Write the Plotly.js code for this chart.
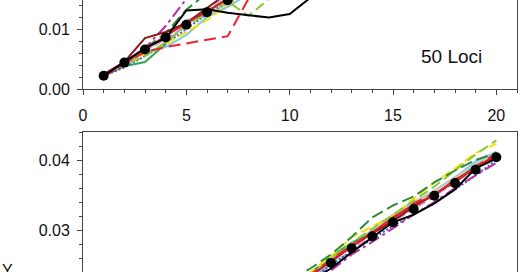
<!DOCTYPE html>
<html><head><meta charset="utf-8">
<script src="https://cdn.plot.ly/plotly-3.0.1.min.js"></script>
<style>html,body{margin:0;padding:0;overflow:hidden;width:520px;height:272px;background:#fff}
#chart{position:absolute;left:0;top:-200px;width:520px;height:700px}</style>
</head><body><div id="chart"></div>
<script>
const xs = [1,2,3,4,5,6,7,8,9,10,11,12,13,14,15,16,17,18,19,20];

// top panel (50 Loci)
const topMean    = [0.0022,0.0044,0.0066,0.0086,0.0107,0.0128,0.0148,0.0167,0.0187,0.0206,0.0226,0.0245,0.0265,0.0284,0.0303,0.0322,0.0342,0.0361,0.0380,0.0400];
const topBlack   = [0.0022,0.0045,0.0068,0.0085,0.0131,0.0133,0.0127,0.0123,0.0119,0.0125,0.0152,0.0185,0.0220,0.0252,0.0280,0.0305,0.0330,0.0352,0.0375,0.0398];
const topRedDash = [0.0022,0.0042,0.0062,0.0070,0.0076,0.0082,0.0088,0.0150,0.0192,0.0215,0.0232,0.0250,0.0268,0.0290,0.0308,0.0326,0.0345,0.0366,0.0384,0.0405];
const topBrown   = [0.0025,0.0045,0.0085,0.0095,0.0110,0.0135,0.0160,0.0178,0.0195,0.0212,0.0230,0.0250,0.0270,0.0288,0.0306,0.0326,0.0345,0.0364,0.0385,0.0402];
const topMagenta = [0.0022,0.0040,0.0068,0.0105,0.0150,0.0172,0.0190,0.0205,0.0220,0.0240,0.0258,0.0275,0.0290,0.0305,0.0320,0.0338,0.0355,0.0372,0.0390,0.0410];
const topDkGreen = [0.0022,0.0042,0.0068,0.0093,0.0132,0.0160,0.0178,0.0195,0.0212,0.0230,0.0248,0.0265,0.0282,0.0300,0.0318,0.0336,0.0354,0.0372,0.0392,0.0412];
const topLtGreen = [0.0022,0.0040,0.0055,0.0078,0.0105,0.0125,0.0146,0.0122,0.0150,0.0175,0.0200,0.0225,0.0250,0.0272,0.0295,0.0318,0.0340,0.0362,0.0382,0.0405];
const topYellow  = [0.0022,0.0042,0.0058,0.0075,0.0095,0.0115,0.0140,0.0160,0.0180,0.0200,0.0222,0.0242,0.0262,0.0282,0.0300,0.0320,0.0340,0.0360,0.0380,0.0398];
const topLtBlue  = [0.0022,0.0040,0.0062,0.0070,0.0090,0.0120,0.0137,0.0158,0.0180,0.0200,0.0220,0.0240,0.0260,0.0280,0.0300,0.0318,0.0338,0.0358,0.0378,0.0396];
const topBlueDot = [0.0022,0.0036,0.0055,0.0075,0.0100,0.0125,0.0145,0.0165,0.0185,0.0204,0.0222,0.0242,0.0262,0.0280,0.0298,0.0318,0.0336,0.0355,0.0374,0.0392];
const topGray    = [0.0022,0.0043,0.0065,0.0085,0.0115,0.0122,0.0142,0.0165,0.0185,0.0205,0.0225,0.0245,0.0265,0.0285,0.0305,0.0325,0.0344,0.0364,0.0384,0.0404];
const topGreen   = [0.0022,0.0038,0.0045,0.0075,0.0110,0.0128,0.0150,0.0170,0.0190,0.0208,0.0228,0.0248,0.0266,0.0286,0.0304,0.0324,0.0343,0.0362,0.0381,0.0401];
const topLavender= [0.0022,0.0043,0.0064,0.0083,0.0105,0.0135,0.0152,0.0172,0.0190,0.0210,0.0230,0.0248,0.0268,0.0287,0.0306,0.0325,0.0345,0.0364,0.0383,0.0403];
const topRed     = [0.0023,0.0045,0.0066,0.0088,0.0110,0.0130,0.0150,0.0170,0.0190,0.0209,0.0228,0.0247,0.0267,0.0286,0.0305,0.0324,0.0344,0.0363,0.0382,0.0402];

// bottom panel
const botMean    = [0.0021,0.0042,0.0063,0.0084,0.0105,0.0126,0.0147,0.0168,0.0190,0.0212,0.0233,0.0253,0.0274,0.0291,0.0311,0.0330,0.0349,0.0367,0.0386,0.0404];
const botBlack   = [0.0021,0.0041,0.0062,0.0083,0.0104,0.0125,0.0146,0.0166,0.0187,0.0208,0.0228,0.0245,0.0268,0.0290,0.0311,0.0322,0.0338,0.0358,0.0388,0.0402];
const botRedDash = [0.0022,0.0043,0.0064,0.0085,0.0106,0.0127,0.0148,0.0170,0.0192,0.0214,0.0236,0.0258,0.0278,0.0297,0.0316,0.0338,0.0352,0.0370,0.0390,0.0410];
const botBrown   = [0.0022,0.0043,0.0064,0.0085,0.0106,0.0127,0.0148,0.0169,0.0191,0.0213,0.0235,0.0255,0.0277,0.0295,0.0313,0.0333,0.0351,0.0369,0.0389,0.0406];
const botMagenta = [0.0020,0.0040,0.0060,0.0080,0.0100,0.0120,0.0140,0.0160,0.0182,0.0204,0.0226,0.0242,0.0265,0.0283,0.0303,0.0322,0.0340,0.0360,0.0378,0.0396];
const botDkGreen = [0.0022,0.0043,0.0064,0.0086,0.0108,0.0130,0.0152,0.0175,0.0200,0.0228,0.0245,0.0265,0.0290,0.0318,0.0335,0.0348,0.0368,0.0385,0.0400,0.0410];
const botLtGreen = [0.0021,0.0042,0.0063,0.0084,0.0105,0.0126,0.0147,0.0168,0.0190,0.0213,0.0236,0.0258,0.0282,0.0302,0.0322,0.0342,0.0362,0.0385,0.0408,0.0428];
const botYellow  = [0.0022,0.0043,0.0064,0.0085,0.0107,0.0129,0.0151,0.0173,0.0195,0.0218,0.0240,0.0262,0.0290,0.0305,0.0320,0.0345,0.0368,0.0388,0.0410,0.0423];
const botLtBlue  = [0.0021,0.0042,0.0063,0.0084,0.0105,0.0126,0.0147,0.0169,0.0190,0.0211,0.0232,0.0252,0.0278,0.0296,0.0318,0.0338,0.0356,0.0375,0.0398,0.0412];
const botBlueDot = [0.0020,0.0041,0.0062,0.0083,0.0104,0.0125,0.0146,0.0166,0.0187,0.0208,0.0229,0.0250,0.0270,0.0287,0.0306,0.0322,0.0338,0.0358,0.0378,0.0400];
const botGray    = [0.0022,0.0043,0.0064,0.0085,0.0106,0.0127,0.0148,0.0170,0.0192,0.0214,0.0237,0.0260,0.0280,0.0300,0.0322,0.0340,0.0356,0.0376,0.0394,0.0410];
const botGreen   = [0.0021,0.0042,0.0063,0.0084,0.0105,0.0126,0.0147,0.0169,0.0192,0.0215,0.0238,0.0262,0.0282,0.0296,0.0316,0.0334,0.0350,0.0370,0.0392,0.0404];
const botLavender= [0.0021,0.0042,0.0062,0.0083,0.0104,0.0125,0.0146,0.0167,0.0188,0.0209,0.0230,0.0248,0.0272,0.0292,0.0312,0.0330,0.0348,0.0368,0.0388,0.0406];
const botRed     = [0.0021,0.0042,0.0063,0.0084,0.0105,0.0126,0.0147,0.0168,0.0190,0.0212,0.0234,0.0256,0.0276,0.0296,0.0318,0.0336,0.0350,0.0372,0.0388,0.0408];

const panelLabel = "50 Loci";
const axisLetter = "Y";

const styles = [
  {t: topLtBlue,  b: botLtBlue,  c: '#7ec8e3', d: 'solid'},
  {t: topGray,    b: botGray,    c: '#c4c4c4', d: 'solid'},
  {t: topGreen,   b: botGreen,   c: '#3aa655', d: 'solid'},
  {t: topLavender,b: botLavender,c: '#c99bd6', d: '8px,4px'},
  {t: topBlueDot, b: botBlueDot, c: '#3a5fcd', d: '2px,2px'},
  {t: topYellow,  b: botYellow,  c: '#f2e200', d: '10px,4px'},
  {t: topLtGreen, b: botLtGreen, c: '#8cc63f', d: '10px,5px'},
  {t: topDkGreen, b: botDkGreen, c: '#2e8b3a', d: '12px,5px'},
  {t: topMagenta, b: botMagenta, c: '#b5309e', d: '12px,4px,3px,4px'},
  {t: topBrown,   b: botBrown,   c: '#8b1a1a', d: 'solid'},
  {t: topRed,     b: botRed,     c: '#d7191c', d: 'solid'},
  {t: topRedDash, b: botRedDash, c: '#e8262b', d: '12px,6px'},
  {t: topBlack,   b: botBlack,   c: '#000000', d: 'solid'}
];

const traces = [];
styles.forEach(s => {
  traces.push({x: xs, y: s.t, xaxis: 'x', yaxis: 'y', mode: 'lines', line: {color: s.c, width: 2, dash: s.d}, showlegend: false, hoverinfo: 'skip'});
  traces.push({x: xs, y: s.b, xaxis: 'x2', yaxis: 'y2', mode: 'lines', line: {color: s.c, width: 2, dash: s.d}, showlegend: false, hoverinfo: 'skip'});
});
traces.push({x: xs, y: topMean, xaxis: 'x', yaxis: 'y', mode: 'markers', marker: {color: '#000', size: 10}, showlegend: false});
traces.push({x: xs, y: botMean, xaxis: 'x2', yaxis: 'y2', mode: 'markers', marker: {color: '#000', size: 10}, showlegend: false});

const fontBase = {family: 'Liberation Sans, Arial, sans-serif', size: 16, color: '#111'};
const xax = (anchor) => ({
  anchor: anchor, range: [0, 21], tickvals: [0,5,10,15,20], ticks: 'outside', ticklen: 5, tickwidth: 1, tickcolor: '#444',
  minor: {dtick: 1, ticks: 'outside', ticklen: 3, tickcolor: '#444', showgrid: false},
  showline: true, linecolor: '#444', linewidth: 1, mirror: true, showgrid: false, zeroline: false,
  tickfont: fontBase, ticklabelstandoff: 7
});
const yax = (dom, anchor) => ({
  anchor: anchor, domain: dom, range: [0, 0.044], dtick: 0.01, tick0: 0, tickformat: '.2f',
  ticks: 'outside', ticklen: 5, tickwidth: 1, tickcolor: '#444',
  minor: {dtick: 0.002, ticks: 'outside', ticklen: 3, tickcolor: '#444', showgrid: false},
  showline: true, linecolor: '#444', linewidth: 1, mirror: true, showgrid: false, zeroline: false,
  tickfont: fontBase, ticklabelstandoff: 4
});

const layout = {
  width: 520, height: 700,
  margin: {l: 83, r: 3, t: 25, b: 60},
  paper_bgcolor: '#fff', plot_bgcolor: '#fff',
  font: fontBase,
  xaxis: xax('y'),
  yaxis: yax([0.5707, 1], 'x'),
  xaxis2: xax('y2'),
  yaxis2: yax([0, 0.5008], 'x2'),
  annotations: [
    {xref: 'x', yref: 'y', x: 17.85, y: 0.0054, text: panelLabel, showarrow: false, xanchor: 'center', yanchor: 'middle', font: {family: 'Liberation Sans, Arial, sans-serif', size: 19, color: '#111'}},
    {xref: 'paper', yref: 'paper', x: -0.175, y: 0.2748, text: axisLetter, showarrow: false, xanchor: 'center', yanchor: 'middle', font: {family: 'Liberation Sans, Arial, sans-serif', size: 16, color: '#111'}}
  ]
};
Plotly.newPlot('chart', traces, layout, {staticPlot: true, displayModeBar: false});
</script></body></html>
